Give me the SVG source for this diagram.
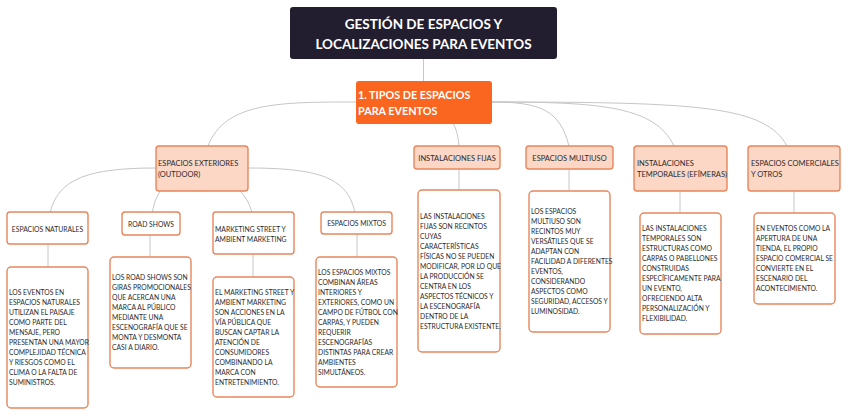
<svg xmlns="http://www.w3.org/2000/svg" width="848" height="415" viewBox="0 0 848 415">
<style>
.conn{fill:none;stroke:#c6c6c6;stroke-width:1}
.title{fill:#221e2f}
.main{fill:#fa6520}
.l1{fill:#fcd7c6;stroke:#e8865c;stroke-width:1.4}
.l2{fill:#ffffff;stroke:#e8865c;stroke-width:1.4}
.tt{font-family:Lato,"Liberation Sans",sans-serif;font-weight:bold;fill:#ffffff}
.t1{font-family:Lato,"Liberation Sans",sans-serif;font-size:7.5px;fill:#2b2b2b}
.t2{font-family:Lato,"Liberation Sans",sans-serif;font-size:6.8px;fill:#2b2b2b}
.td{font-family:Lato,"Liberation Sans",sans-serif;font-size:6.75px;fill:#2b2b2b}
</style>
<rect width="848" height="415" fill="#ffffff"/>
<g id="connectors">
<path class="conn" d="M423.5,59 L423.5,81"/>
<path class="conn" d="M356,102 C280,102 225,102 208,146"/>
<path class="conn" d="M453,123 Q458,132 459,146"/>
<path class="conn" d="M492,102 C540,102 560,110 569,146"/>
<path class="conn" d="M492,102 C600,102 655,106 674,146"/>
<path class="conn" d="M492,102 C700,102 765,106 787,146"/>
<path class="conn" d="M156,168 C90,168 58,178 50,213"/>
<path class="conn" d="M160,191 Q154,200 152,213"/>
<path class="conn" d="M240,191 Q249,200 252,213"/>
<path class="conn" d="M248,168 C320,168 348,178 355,213"/>
<path class="conn" d="M48,244 L48,267"/>
<path class="conn" d="M150,235 L150,257"/>
<path class="conn" d="M253,254 L253,277"/>
<path class="conn" d="M357,234 L357,257"/>
<path class="conn" d="M459,169 L459,190"/>
<path class="conn" d="M569,169 L569,191"/>
<path class="conn" d="M680,191 L680,213"/>
<path class="conn" d="M794,191 L794,213"/>
</g>
<g id="title">
<rect class="title" x="290" y="7" width="267" height="52" rx="3"/>
<text class="tt" font-size="13.5" text-anchor="middle"><tspan x="423.5" y="29">GESTIÓN DE ESPACIOS Y</tspan><tspan x="423.5" y="49">LOCALIZACIONES PARA EVENTOS</tspan></text>
</g>
<g id="tipos">
<rect class="main" x="356" y="81" width="136" height="43" rx="3"/>
<text class="tt" font-size="10.8"><tspan x="358" y="99">1. TIPOS DE ESPACIOS</tspan><tspan x="358" y="115">PARA EVENTOS</tspan></text>
</g>
<g id="exteriores">
<rect class="l1" x="156" y="146" width="92" height="45" rx="3"/>
<text class="t1"><tspan x="158" y="166">ESPACIOS EXTERIORES</tspan><tspan x="158" y="177">(OUTDOOR)</tspan></text>
</g>
<g id="fijas">
<rect class="l1" x="414" y="146" width="86" height="23" rx="3"/>
<text class="t1" x="457" y="160.5" text-anchor="middle">INSTALACIONES FIJAS</text>
</g>
<g id="multiuso">
<rect class="l1" x="526" y="146" width="87" height="23" rx="3"/>
<text class="t1" x="569.5" y="160.5" text-anchor="middle">ESPACIOS MULTIUSO</text>
</g>
<g id="temporales">
<rect class="l1" x="634" y="146" width="93" height="45" rx="3"/>
<text class="t1"><tspan x="637" y="166">INSTALACIONES</tspan><tspan x="637" y="177">TEMPORALES (EFÍMERAS)</tspan></text>
</g>
<g id="comerciales">
<rect class="l1" x="748" y="146" width="92" height="45" rx="3"/>
<text class="t1"><tspan x="751" y="166">ESPACIOS COMERCIALES</tspan><tspan x="751" y="177">Y OTROS</tspan></text>
</g>
<g id="naturales">
<rect class="l2" x="7" y="212" width="81" height="32" rx="3"/>
<text class="t2" x="47.5" y="231.5" text-anchor="middle">ESPACIOS NATURALES</text>
</g>
<g id="roadshows">
<rect class="l2" x="122" y="212" width="58" height="23" rx="3"/>
<text class="t2" x="151" y="226.5" text-anchor="middle">ROAD SHOWS</text>
</g>
<g id="marketing">
<rect class="l2" x="213" y="212" width="81" height="42" rx="3"/>
<text class="t2"><tspan x="215" y="231.5">MARKETING STREET Y</tspan><tspan x="215" y="241.5">AMBIENT MARKETING</tspan></text>
</g>
<g id="mixtos">
<rect class="l2" x="321" y="212" width="71" height="22" rx="3"/>
<text class="t2" x="356.5" y="226" text-anchor="middle">ESPACIOS MIXTOS</text>
</g>
<g id="naturales-desc">
<rect class="l2" x="7" y="267" width="81" height="141" rx="4"/>
<text class="td"><tspan x="9" y="295">LOS EVENTOS EN</tspan><tspan x="9" y="305">ESPACIOS NATURALES</tspan><tspan x="9" y="315">UTILIZAN EL PAISAJE</tspan><tspan x="9" y="325">COMO PARTE DEL</tspan><tspan x="9" y="335">MENSAJE, PERO</tspan><tspan x="9" y="345">PRESENTAN UNA MAYOR</tspan><tspan x="9" y="355">COMPLEJIDAD TÉCNICA</tspan><tspan x="9" y="365">Y RIESGOS COMO EL</tspan><tspan x="9" y="375">CLIMA O LA FALTA DE</tspan><tspan x="9" y="385">SUMINISTROS.</tspan></text>
</g>
<g id="roadshows-desc">
<rect class="l2" x="110" y="257" width="81" height="111" rx="4"/>
<text class="td"><tspan x="112" y="280">LOS ROAD SHOWS SON</tspan><tspan x="112" y="290">GIRAS PROMOCIONALES</tspan><tspan x="112" y="300">QUE ACERCAN UNA</tspan><tspan x="112" y="310">MARCA AL PÚBLICO</tspan><tspan x="112" y="320">MEDIANTE UNA</tspan><tspan x="112" y="330">ESCENOGRAFÍA QUE SE</tspan><tspan x="112" y="340">MONTA Y DESMONTA</tspan><tspan x="112" y="350">CASI A DIARIO.</tspan></text>
</g>
<g id="marketing-desc">
<rect class="l2" x="213" y="277" width="81" height="120" rx="4"/>
<text class="td"><tspan x="215" y="294.5">EL MARKETING STREET Y</tspan><tspan x="215" y="304.5">AMBIENT MARKETING</tspan><tspan x="215" y="314.5">SON ACCIONES EN LA</tspan><tspan x="215" y="324.5">VÍA PÚBLICA QUE</tspan><tspan x="215" y="334.5">BUSCAN CAPTAR LA</tspan><tspan x="215" y="344.5">ATENCIÓN DE</tspan><tspan x="215" y="354.5">CONSUMIDORES</tspan><tspan x="215" y="364.5">COMBINANDO LA</tspan><tspan x="215" y="374.5">MARCA CON</tspan><tspan x="215" y="384.5">ENTRETENIMIENTO.</tspan></text>
</g>
<g id="mixtos-desc">
<rect class="l2" x="316" y="257" width="81" height="130" rx="4"/>
<text class="td"><tspan x="318" y="275">LOS ESPACIOS MIXTOS</tspan><tspan x="318" y="285">COMBINAN ÁREAS</tspan><tspan x="318" y="295">INTERIORES Y</tspan><tspan x="318" y="305">EXTERIORES, COMO UN</tspan><tspan x="318" y="315">CAMPO DE FÚTBOL CON</tspan><tspan x="318" y="325">CARPAS, Y PUEDEN</tspan><tspan x="318" y="335">REQUERIR</tspan><tspan x="318" y="345">ESCENOGRAFÍAS</tspan><tspan x="318" y="355">DISTINTAS PARA CREAR</tspan><tspan x="318" y="365">AMBIENTES</tspan><tspan x="318" y="375">SIMULTÁNEOS.</tspan></text>
</g>
<g id="fijas-desc">
<rect class="l2" x="418" y="190" width="82" height="162" rx="4"/>
<text class="td"><tspan x="420" y="219">LAS INSTALACIONES</tspan><tspan x="420" y="229">FIJAS SON RECINTOS</tspan><tspan x="420" y="239">CUYAS</tspan><tspan x="420" y="249">CARACTERÍSTICAS</tspan><tspan x="420" y="259">FÍSICAS NO SE PUEDEN</tspan><tspan x="420" y="269">MODIFICAR, POR LO QUE</tspan><tspan x="420" y="279">LA PRODUCCIÓN SE</tspan><tspan x="420" y="289">CENTRA EN LOS</tspan><tspan x="420" y="299">ASPECTOS TÉCNICOS Y</tspan><tspan x="420" y="309">LA ESCENOGRAFÍA</tspan><tspan x="420" y="319">DENTRO DE LA</tspan><tspan x="420" y="329">ESTRUCTURA EXISTENTE.</tspan></text>
</g>
<g id="multiuso-desc">
<rect class="l2" x="529" y="191" width="81" height="141" rx="4"/>
<text class="td"><tspan x="531" y="214">LOS ESPACIOS</tspan><tspan x="531" y="224">MULTIUSO SON</tspan><tspan x="531" y="234">RECINTOS MUY</tspan><tspan x="531" y="244">VERSÁTILES QUE SE</tspan><tspan x="531" y="254">ADAPTAN CON</tspan><tspan x="531" y="264">FACILIDAD A DIFERENTES</tspan><tspan x="531" y="274">EVENTOS,</tspan><tspan x="531" y="284">CONSIDERANDO</tspan><tspan x="531" y="294">ASPECTOS COMO</tspan><tspan x="531" y="304">SEGURIDAD, ACCESOS Y</tspan><tspan x="531" y="314">LUMINOSIDAD.</tspan></text>
</g>
<g id="temporales-desc">
<rect class="l2" x="640" y="213" width="81" height="121" rx="4"/>
<text class="td"><tspan x="642" y="231">LAS INSTALACIONES</tspan><tspan x="642" y="241">TEMPORALES SON</tspan><tspan x="642" y="251">ESTRUCTURAS COMO</tspan><tspan x="642" y="261">CARPAS O PABELLONES</tspan><tspan x="642" y="271">CONSTRUIDAS</tspan><tspan x="642" y="281">ESPECÍFICAMENTE PARA</tspan><tspan x="642" y="291">UN EVENTO,</tspan><tspan x="642" y="301">OFRECIENDO ALTA</tspan><tspan x="642" y="311">PERSONALIZACIÓN Y</tspan><tspan x="642" y="321">FLEXIBILIDAD.</tspan></text>
</g>
<g id="comerciales-desc">
<rect class="l2" x="754" y="213" width="81" height="91" rx="4"/>
<text class="td"><tspan x="756" y="231">EN EVENTOS COMO LA</tspan><tspan x="756" y="241">APERTURA DE UNA</tspan><tspan x="756" y="251">TIENDA, EL PROPIO</tspan><tspan x="756" y="261">ESPACIO COMERCIAL SE</tspan><tspan x="756" y="271">CONVIERTE EN EL</tspan><tspan x="756" y="281">ESCENARIO DEL</tspan><tspan x="756" y="291">ACONTECIMIENTO.</tspan></text>
</g>
</svg>
